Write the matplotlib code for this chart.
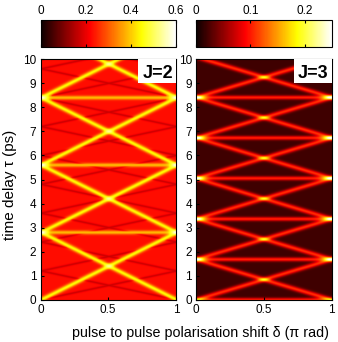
import numpy as np
import matplotlib.pyplot as plt

plt.rcParams['font.family'] = ['Liberation Sans', 'DejaVu Sans']

# J=2 panel: times (ps) where the bright lines meet the delta = 0 and delta = 1 edges
j2_edge = [0.0, 2.8, 5.6, 8.4, 11.2]
j2_flat = [2.8, 5.6, 8.4]                      # horizontal bright bands
j2_dark_edge = [0.0, 1.2, 2.4, 3.6, 4.8, 6.0, 7.2, 8.4, 9.6, 10.8]   # faint dark lines
j2_bg, j2_amp, j2_flat_amp, j2_dark_amp = 0.23, 0.22, 0.16, -0.06
j2_vmax = 0.6
j2_ticks = [0, 0.2, 0.4, 0.6]

# J=3 panel
j3_edge = [0.0, 1.68, 3.36, 5.05, 6.73, 8.41, 10.09]
j3_flat = [0.0, 1.68, 3.36, 5.05, 6.73, 8.41]
j3_bg, j3_amp, j3_flat_amp = 0.02, 0.09, 0.085
j3_vmax = 0.25
j3_ticks = [0, 0.1, 0.2]

xticks = [0, 0.5, 1]
xticklabels = ['0', '0.5', '1']
yticks = list(range(11))

W, H = 338, 342
nx, ny = 300, 600
d = np.linspace(0, 1, nx)
t = np.linspace(0, 10, ny)
D, T = np.meshgrid(d, t)
px_x, px_y = 135.5, 24.05   # pixels per unit delta / per ps


def ridge(t0, t1, sigma):
    # gaussian ridge along the straight line (0, t0) -> (1, t1), width in pixels
    slope = (t1 - t0) * px_y / px_x
    dist = (T - (t0 + (t1 - t0) * D)) * px_y / np.sqrt(1 + slope ** 2)
    return np.exp(-0.5 * (dist / sigma) ** 2)


def build(edge, flat, dark_edge, bg, amp, flat_amp, dark_amp, soft):
    s = np.zeros_like(D)
    for a, b in zip(edge[:-1], edge[1:]):
        s += ridge(a, b, 1.6) + ridge(b, a, 1.6)
    for f in flat:
        s += ridge(f, f, 1.4) * flat_amp / amp
    if soft:
        val = bg + amp * np.minimum(s, 1) + 0.4 * amp * np.maximum(s - 1, 0)
    else:
        val = bg + amp * s
    dk = np.zeros_like(D)
    for a, b in zip(dark_edge[:-1], dark_edge[1:]):
        dk = np.maximum(dk, np.maximum(ridge(a, b, 0.7), ridge(b, a, 0.7)))
    val += dark_amp * dk * (s < 0.5)
    return val


img2 = build(j2_edge, j2_flat, j2_dark_edge, j2_bg, j2_amp, j2_flat_amp, j2_dark_amp, True)
img3 = build(j3_edge, j3_flat, [], j3_bg, j3_amp, j3_flat_amp, 0, False)

fig = plt.figure(figsize=(W / 100, H / 100), dpi=100)


def box(x0, y0, x1, y1):
    return [x0 / W, 1 - y1 / H, (x1 - x0) / W, (y1 - y0) / H]


panels = [
    (img2, j2_vmax, j2_ticks, 'J=2', 40.5, 176),
    (img3, j3_vmax, j3_ticks, 'J=3', 196, 331.7),
]
for img, vmax, cticks, name, x0, x1 in panels:
    ax = fig.add_axes(box(x0, 59.3, x1, 299.7))
    im = ax.imshow(img, extent=[0, 1, 0, 10], origin='lower', aspect='auto',
                   cmap='hot', vmin=0, vmax=vmax, interpolation='bilinear')
    ax.set_xlim(0, 1)
    ax.set_ylim(0, 10)
    ax.set_xticks(xticks)
    ax.set_xticklabels(xticklabels)
    ax.set_yticks(yticks)
    ax.tick_params(direction='in', length=2.5, labelsize=8.5, pad=3, colors='black')
    ax.add_patch(plt.Rectangle((0.72, 0.90), 0.28, 0.10, transform=ax.transAxes,
                               facecolor='white', edgecolor='none', zorder=3))
    ax.text(0.865, 0.943, name, transform=ax.transAxes, ha='center', va='center',
            fontsize=13, fontweight='bold', zorder=4)

    cax = fig.add_axes(box(x0, 20, x1, 47))
    cb = fig.colorbar(im, cax=cax, orientation='horizontal')
    cb.set_ticks(cticks)
    cb.set_ticklabels([('%g' % v) for v in cticks])
    cax.xaxis.set_ticks_position('both')
    cax.xaxis.set_label_position('top')
    cax.tick_params(direction='in', length=2.5, labelsize=8.5, labeltop=True,
                    labelbottom=False, pad=2)
    cb.outline.set_linewidth(0.8)

fig.text(10 / W, 1 - 185 / H, 'time delay τ (ps)', rotation=90, ha='center',
         va='center', fontsize=11)
fig.text(201 / W, 1 - 333 / H, 'pulse to pulse polarisation shift δ (π rad)',
         ha='center', va='center', fontsize=10.3)

fig.savefig('out.png', dpi=100)
